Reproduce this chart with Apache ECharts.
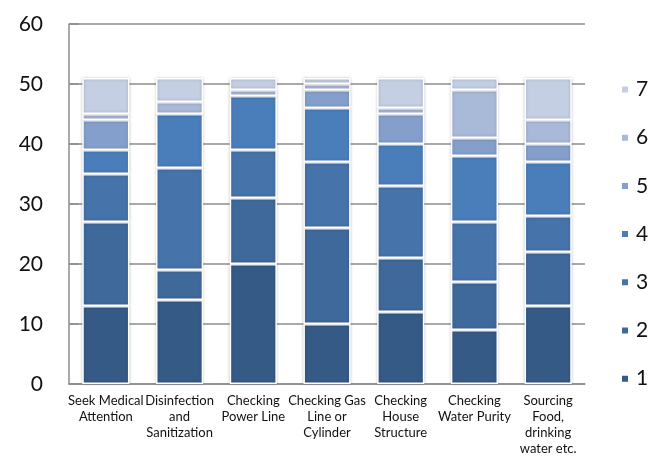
<!DOCTYPE html>
<html>
<head>
<meta charset="utf-8">
<script src="https://cdn.jsdelivr.net/npm/echarts@6/dist/echarts.min.js"></script>
<style>
  html, body { margin: 0; padding: 0; background: #fff; }
  #chart { width: 662px; height: 457px; }
</style>
</head>
<body>
<div id="chart"></div>
<script>
// Post-disaster activities, responses stacked by rank 1..7
var categories = [
  'Seek Medical\nAttention',
  'Disinfection\nand\nSanitization',
  'Checking\nPower Line',
  'Checking Gas\nLine or\nCylinder',
  'Checking\nHouse\nStructure',
  'Checking\nWater Purity',
  'Sourcing\nFood,\ndrinking\nwater etc.'
];
var rank1 = [13, 14, 20, 10, 12, 9, 13];
var rank2 = [14, 5, 11, 16, 9, 8, 9];
var rank3 = [8, 17, 8, 11, 12, 10, 6];
var rank4 = [4, 9, 9, 9, 7, 11, 9];
var rank5 = [5, 0, 0, 3, 5, 3, 3];
var rank6 = [1, 2, 1, 1, 1, 8, 4];
var rank7 = [6, 4, 2, 1, 5, 2, 7];
var seriesNames = ['1', '2', '3', '4', '5', '6', '7'];
var yTicks = [0, 10, 20, 30, 40, 50, 60];

var seriesData = [rank1, rank2, rank3, rank4, rank5, rank6, rank7];
var colors = ['#355a86', '#3f699b', '#4673aa', '#4a7ebb', '#849fcb', '#a9b9d8', '#c4cfe3'];
var font = 'Lato, "Open Sans", sans-serif';

var chart = echarts.init(document.getElementById('chart'), null, { renderer: 'canvas' });

var series = seriesNames.map(function (name, i) {
  return {
    name: name,
    type: 'bar',
    stack: 'total',
    barWidth: '64%',
    data: seriesData[i],
    itemStyle: {
      color: colors[i],
      borderColor: '#ffffff',
      borderWidth: 1.5,
      shadowColor: 'rgba(0,0,0,0.22)',
      shadowBlur: 3
    }
  };
});

chart.setOption({
  animation: false,
  backgroundColor: '#ffffff',
  color: colors,
  grid: { left: 69, right: 77, top: 24, bottom: 73, containLabel: false },
  legend: {
    orient: 'vertical',
    left: 615,
    top: 74,
    data: seriesNames.slice().reverse(),
    icon: 'rect',
    itemWidth: 8,
    itemHeight: 8,
    itemGap: 27.2,
    textStyle: { fontFamily: font, fontSize: 21, color: '#111', padding: [0, 0, 0, 2] }
  },
  xAxis: {
    type: 'category',
    data: categories,
    axisLine: { lineStyle: { color: '#8c8c8c', width: 1.5 } },
    axisTick: { show: false },
    axisLabel: {
      interval: 0,
      margin: 9,
      fontFamily: font,
      fontSize: 13,
      lineHeight: 16,
      color: '#111'
    }
  },
  yAxis: {
    type: 'value',
    min: yTicks[0],
    max: yTicks[yTicks.length - 1],
    interval: 10,
    axisLine: { show: true, lineStyle: { color: '#8c8c8c', width: 1.5 } },
    axisTick: { show: true, inside: true, length: 10, lineStyle: { color: '#8c8c8c', width: 1.5 } },
    splitLine: { show: true, lineStyle: { color: '#8c8c8c', width: 1.5 } },
    axisLabel: {
      margin: 26,
      fontFamily: font,
      fontSize: 21,
      color: '#111'
    }
  },
  series: series
});
</script>
</body>
</html>
